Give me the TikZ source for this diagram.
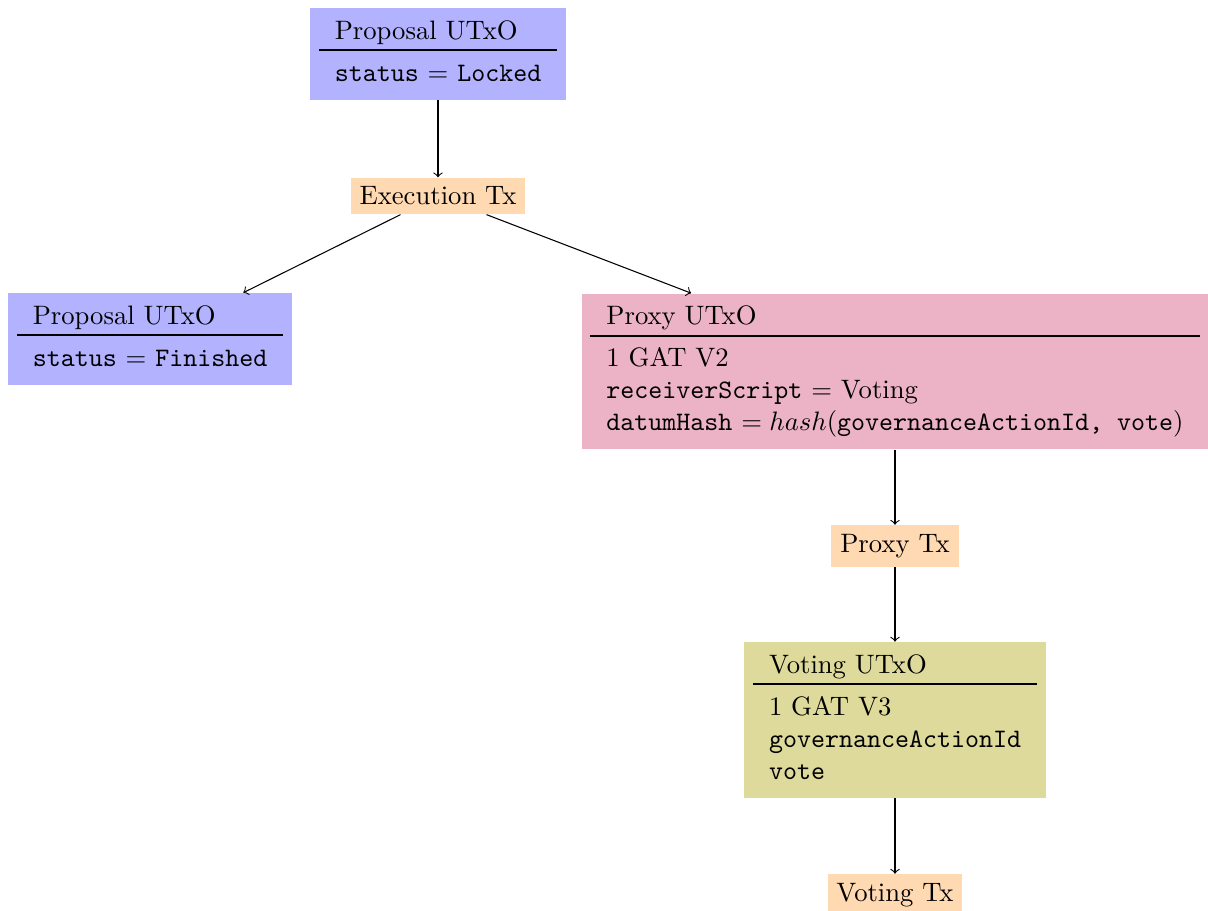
\documentclass[tikz,border=0pt]{standalone}
\setlength{\arrayrulewidth}{0.8pt}
\newcommand{\bodystrut}{\rule{0pt}{11.3pt}}
\begin{document}
\begin{tikzpicture}[x=0.375pt, y=-0.375pt]
\tikzset{
  utxobox/.style={inner sep=0.3333em},
  txbox/.style={fill=orange!30, inner sep=0.3333em},
  conn/.style={->}
}
\useasboundingbox (0,0) rectangle (1208,911);
\node[utxobox, fill=blue!30] (p1) at (438,54) {\begin{tabular}{l}Proposal UTxO\\\hline\bodystrut\texttt{status} $=$ \texttt{Locked}\end{tabular}};
\node[txbox] (exec) at (438,196) {Execution Tx};
\node[utxobox, fill=blue!30] (p2) at (150,339) {\begin{tabular}{l}Proposal UTxO\\\hline\bodystrut\texttt{status} $=$ \texttt{Finished}\end{tabular}};
\node[utxobox, fill=purple!30] (proxy) at (895,371.5) {\begin{tabular}{l}Proxy UTxO\\\hline\bodystrut 1 GAT V2\\\texttt{receiverScript} $=$ Voting\\\texttt{datumHash} $= hash($\texttt{governanceActionId, vote}$)$\end{tabular}};
\node[txbox] (proxytx) at (895,546) {Proxy Tx};
\node[utxobox, fill=olive!30] (voting) at (895,720) {\begin{tabular}{l}Voting UTxO\\\hline\bodystrut 1 GAT V3\\\texttt{governanceActionId}\\\texttt{vote}\end{tabular}};
\node[txbox] (votingtx) at (895,895) {Voting Tx};
\draw[conn] (p1) -- (exec);
\draw[conn] (exec) -- (p2);
\draw[conn] (exec) -- (proxy);
\draw[conn] (proxy) -- (proxytx);
\draw[conn] (proxytx) -- (voting);
\draw[conn] (voting) -- (votingtx);
\end{tikzpicture}
\end{document}
